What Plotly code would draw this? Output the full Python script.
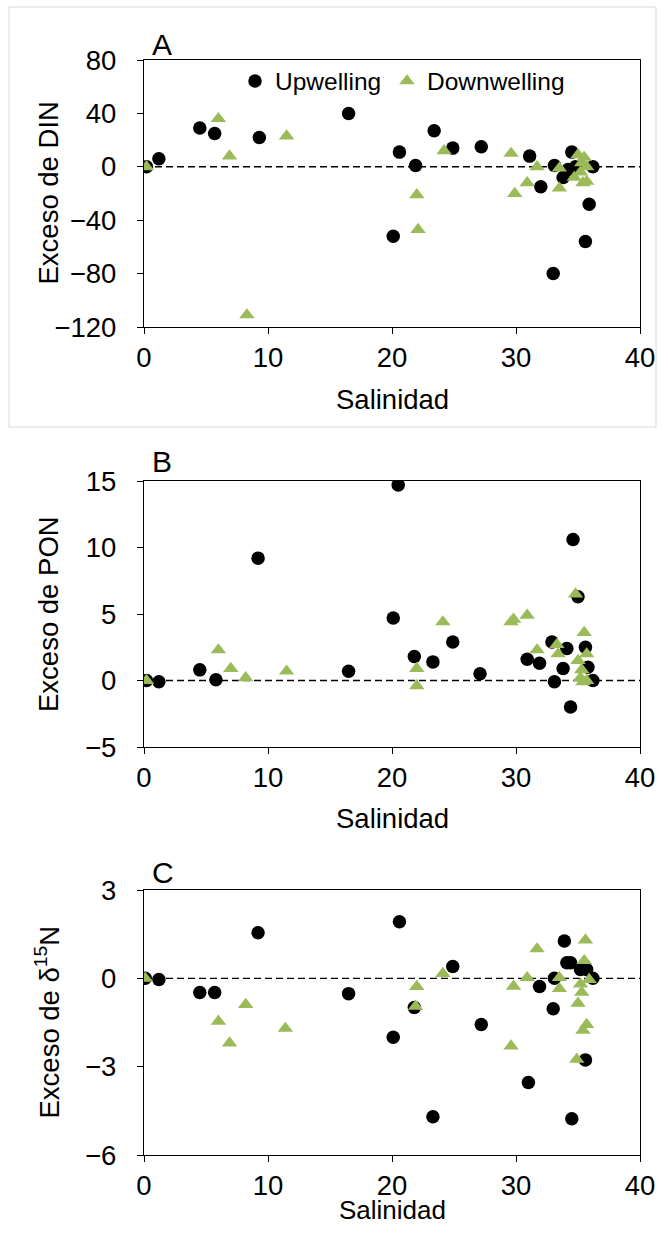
import plotly.graph_objects as go

# ---------------- data ----------------
# Panel A: Exceso de DIN
a_up_x = [0.2, 1.2, 4.5, 5.7, 9.3, 16.5, 20.6, 20.1, 21.9, 23.4, 24.9, 27.2, 31.1, 32.0, 33.1, 34.5, 33.8, 34.2, 34.8, 36.2, 35.9, 35.6, 33.0]
a_up_y = [0, 6, 29, 25, 22, 40, 11, -52, 1, 27, 14, 15, 8, -15, 1, 11, -8, -2, 0, 0, -28, -56, -80]
a_dn_x = [0.2, 6.0, 6.9, 11.5, 8.3, 24.2, 22.0, 22.1, 29.6, 29.9, 30.9, 31.7, 33.5, 33.5, 35.0, 35.5, 35.3, 35.7, 34.7, 35.4, 35.7, 35.2]
a_dn_y = [0, 36, 8, 23, -111, 12, -21, -47, 10, -20, -12, 0, -16, -1, 9, 7, 3, 0, -8, -12, -11, -4]

# Panel B: Exceso de PON
b_up_x = [0.2, 1.2, 4.5, 5.8, 9.2, 16.5, 20.5, 20.1, 21.8, 23.3, 24.9, 27.1, 30.9, 31.9, 32.9, 33.1, 33.8, 34.1, 34.4, 34.6, 35.0, 35.6, 35.8, 36.2]
b_up_y = [0, -0.1, 0.8, 0.05, 9.2, 0.7, 14.7, 4.7, 1.8, 1.4, 2.9, 0.5, 1.6, 1.3, 2.9, -0.1, 0.9, 2.4, -2.0, 10.6, 6.3, 2.5, 1.0, 0]
b_dn_x = [0.2, 6.0, 7.0, 8.2, 11.5, 22.0, 22.0, 24.1, 29.6, 29.8, 30.9, 31.7, 33.3, 33.4, 34.8, 35.5, 35.7, 35.0, 35.3, 35.2, 35.7, 35.4]
b_dn_y = [0, 2.3, 0.9, 0.2, 0.7, 0.9, -0.4, 4.4, 4.4, 4.6, 4.9, 2.3, 2.7, 2.0, 6.5, 3.6, 2.0, 1.5, 0.8, 0.2, 0.0, -0.1]

# Panel C: Exceso de d15N
c_up_x = [0.1, 1.2, 4.5, 5.7, 9.2, 16.5, 20.6, 20.1, 21.8, 23.3, 24.9, 27.2, 31.0, 31.9, 33.0, 33.1, 33.9, 34.1, 34.4, 34.5, 35.2, 35.7, 36.2, 35.6]
c_up_y = [0, -0.04, -0.48, -0.48, 1.55, -0.52, 1.92, -2.0, -0.99, -4.7, 0.4, -1.57, -3.54, -0.28, -1.03, 0, 1.27, 0.53, 0.53, -4.77, 0.3, 0.3, 0.0, -2.77]
c_dn_x = [0.1, 6.0, 6.9, 8.2, 11.4, 22.0, 21.9, 24.1, 29.6, 29.8, 30.9, 31.7, 33.5, 33.5, 35.0, 35.2, 35.3, 35.6, 35.5, 35.9, 35.7, 35.4, 34.9]
c_dn_y = [0, -1.46, -2.2, -0.89, -1.7, -0.28, -0.95, 0.16, -2.3, -0.27, 0.02, 1.0, 0.02, -0.35, -0.85, -0.2, -0.48, 1.3, 0.6, -0.04, -1.57, -1.77, -2.75]

x_ticks = [0, 10, 20, 30, 40]
a_ticks = [-120, -80, -40, 0, 40, 80]
b_ticks = [-5, 0, 5, 10, 15]
c_ticks = [-6, -3, 0, 3]

panel_letters = ["A", "B", "C"]
y_titles = ["Exceso de DIN", "Exceso de PON", "Exceso de δ<sup>15</sup>N"]
x_title = "Salinidad"
series_names = ["Upwelling", "Downwelling"]

# ---------------- style ----------------
# kept a little smaller than the window so the page never overflows
W, H = 664, 1228
FONT = "Liberation Sans, Arial, sans-serif"
BLACK = "#000000"
GREEN = "#9BBB59"


def px(p):          # pixel x -> paper fraction
    return p / W


def py(p):          # pixel y (from top) -> paper fraction (from bottom)
    return 1 - p / H


x_dom = [px(144), px(640)]
panels_px = [(60, 327), (481, 747), (890, 1155)]  # top, bottom px
y_doms = [[py(b), py(t)] for t, b in panels_px]
ranges = [[-120, 80], [-5, 15], [-6, 3]]
yticks = [a_ticks, b_ticks, c_ticks]
xtitle_y = [400, 818, 1210]
xtitle_size = [27.5, 27.5, 26]
letter_y = [44, 462, 872]
data = [(a_up_x, a_up_y, a_dn_x, a_dn_y), (b_up_x, b_up_y, b_dn_x, b_dn_y), (c_up_x, c_up_y, c_dn_x, c_dn_y)]

fig = go.Figure()
shapes = []
annotations = []
for i in range(3):
    sfx = "" if i == 0 else str(i + 1)
    ux, uy, dx, dy = data[i]
    fig.add_trace(go.Scatter(x=ux, y=uy, mode="markers", name=series_names[0],
                             marker=dict(symbol="circle", size=13.5, color=BLACK),
                             xaxis="x" + sfx, yaxis="y" + sfx, showlegend=(i == 0),
                             legend="legend"))
    fig.add_trace(go.Scatter(x=dx, y=dy, mode="markers", name=series_names[1],
                             marker=dict(symbol="triangle-up", size=13.5, color=GREEN),
                             xaxis="x" + sfx, yaxis="y" + sfx, showlegend=(i == 0),
                             legend="legend2"))
    axis_common = dict(showline=True, linecolor=BLACK, linewidth=1.4, mirror=True,
                       ticks="outside", ticklen=6, tickwidth=1.4, tickcolor=BLACK,
                       showgrid=False, zeroline=False, automargin=False,
                       tickfont=dict(family=FONT, size=27.5, color=BLACK))
    fig.update_layout(**{
        "xaxis" + sfx: dict(domain=x_dom, range=[0, 40], tickvals=x_ticks,
                             anchor="y" + sfx, ticklabelstandoff=0, **axis_common),
        "yaxis" + sfx: dict(domain=y_doms[i], range=ranges[i], tickvals=yticks[i],
                             anchor="x" + sfx, ticklabelstandoff=15, **axis_common),
    })
    shapes.append(dict(type="line", xref="x" + sfx + " domain", yref="y" + sfx,
                       x0=0, x1=1, y0=0, y1=0,
                       line=dict(color=BLACK, width=1.4, dash="7px,4px"), layer="below"))
    t, b = panels_px[i]
    annotations.append(dict(text=x_title, xref="paper", yref="paper",
                            x=(x_dom[0] + x_dom[1]) / 2, y=py(xtitle_y[i]),
                            showarrow=False, xanchor="center", yanchor="middle",
                            font=dict(family=FONT, size=xtitle_size[i], color=BLACK)))
    annotations.append(dict(text=y_titles[i], xref="paper", yref="paper",
                            x=px(48), y=py((t + b) / 2), textangle=-90,
                            showarrow=False, xanchor="center", yanchor="middle",
                            font=dict(family=FONT, size=27.5, color=BLACK)))
    annotations.append(dict(text=panel_letters[i], xref="paper", yref="paper",
                            x=px(150), y=py(letter_y[i]),
                            showarrow=False, xanchor="left", yanchor="middle",
                            font=dict(family=FONT, size=30, color=BLACK)))

# light border round panel A
shapes.append(dict(type="rect", xref="paper", yref="paper",
                   x0=px(9), x1=px(656), y0=py(427), y1=py(7),
                   line=dict(color="#d9d9d9", width=1)))

leg_common = dict(orientation="h", xanchor="left", yanchor="middle",
                  bgcolor="rgba(0,0,0,0)", itemwidth=30, borderwidth=0,
                  font=dict(family=FONT, size=24.5, color=BLACK))
fig.update_layout(
    width=W, height=H,
    margin=dict(l=0, r=0, t=0, b=0),
    paper_bgcolor="white", plot_bgcolor="white",
    shapes=shapes, annotations=annotations,
    legend=dict(x=px(235), y=py(81), **leg_common),
    legend2=dict(x=px(387), y=py(81), **leg_common),
)

fig.write_html("out.html")
